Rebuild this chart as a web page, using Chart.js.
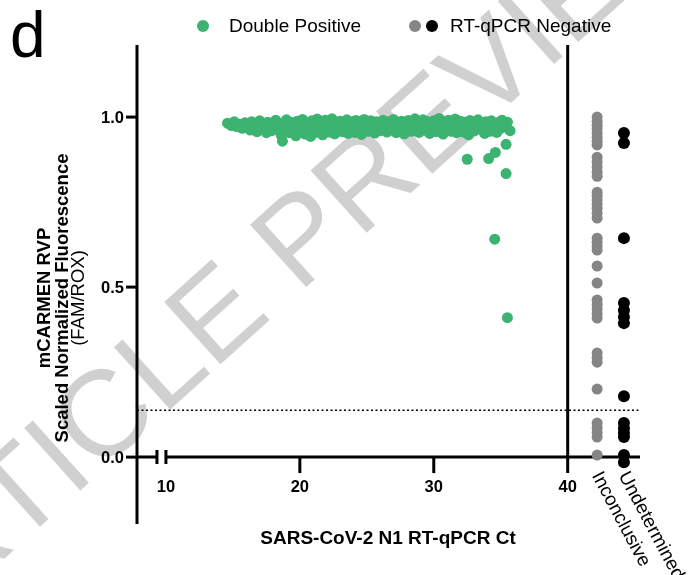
<!DOCTYPE html>
<html>
<head>
<meta charset="utf-8">
<script src="https://cdn.jsdelivr.net/npm/chart.js@4.4.1/dist/chart.umd.min.js"></script>
<style>
  html, body { margin: 0; padding: 0; background: #fff; }
  canvas { display: block; }
</style>
</head>
<body>
<canvas id="ctChart" width="688" height="575"></canvas>
<script>
// Ct vs scaled fluorescence for double positive samples
const doublePositive = [
  [14.6,0.982],[14.9,0.975],[15.1,0.986],[15.3,0.972],[15.5,0.979],[15.7,0.967],[15.9,0.983],
  [16.1,0.975],[16.3,0.962],[16.4,0.986],[16.6,0.970],[16.8,0.957],[16.9,0.980],
  [17.0,0.989],[17.2,0.966],[17.3,0.977],[17.5,0.954],[17.6,0.985],[17.8,0.972],[17.9,0.960],
  [18.0,0.979],[18.2,0.991],[18.3,0.965],[18.5,0.974],[18.6,0.947],[18.7,0.929],[18.8,0.982],[18.9,0.959],
  [19.0,0.992],[19.1,0.971],[19.2,0.954],[19.4,0.984],[19.5,0.963],[19.6,0.977],[19.7,0.945],[19.8,0.988],[19.9,0.968],
  [20.0,0.979],[20.1,0.957],[20.2,0.993],[20.3,0.970],[20.4,0.950],[20.5,0.985],[20.6,0.961],[20.7,0.976],[20.8,0.943],[20.9,0.989],
  [21.0,0.966],[21.1,0.981],[21.2,0.955],[21.3,0.994],[21.4,0.972],[21.5,0.960],[21.6,0.986],[21.7,0.948],[21.8,0.976],[21.9,0.991],
  [22.0,0.963],[22.1,0.982],[22.2,0.956],[22.3,0.973],[22.4,0.995],[22.5,0.968],[22.6,0.951],[22.7,0.984],[22.8,0.970],[22.9,0.959],
  [23.0,0.988],[23.1,0.974],[23.2,0.957],[23.3,0.983],[23.4,0.965],[23.5,0.992],[23.6,0.952],[23.7,0.978],[23.8,0.964],[23.9,0.986],
  [24.0,0.971],[24.1,0.955],[24.2,0.990],[24.3,0.976],[24.4,0.962],[24.5,0.984],[24.6,0.949],[24.7,0.973],[24.8,0.993],[24.9,0.967],
  [25.0,0.980],[25.1,0.958],[25.2,0.972],[25.3,0.989],[25.4,0.963],[25.5,0.977],[25.6,0.953],[25.7,0.986],[25.8,0.969],[25.9,0.982],
  [26.0,0.960],[26.1,0.975],[26.2,0.991],[26.3,0.966],[26.4,0.981],[26.5,0.956],[26.6,0.973],[26.7,0.987],[26.8,0.962],[26.9,0.978],
  [27.0,0.993],[27.1,0.969],[27.2,0.954],[27.3,0.983],[27.4,0.972],[27.5,0.960],[27.6,0.988],[27.7,0.975],[27.8,0.951],[27.9,0.981],
  [28.0,0.966],[28.1,0.990],[28.2,0.974],[28.3,0.958],[28.4,0.985],[28.5,0.970],[28.6,0.995],[28.7,0.963],[28.8,0.979],[28.9,0.955],
  [29.0,0.984],[29.1,0.968],[29.2,0.992],[29.3,0.976],[29.4,0.961],[29.5,0.987],[29.6,0.971],[29.7,0.952],[29.8,0.980],[29.9,0.965],
  [30.0,0.989],[30.1,0.973],[30.2,0.957],[30.3,0.984],[30.4,0.996],[30.5,0.967],[30.6,0.978],[30.7,0.950],[30.8,0.986],[30.9,0.970],
  [31.0,0.962],[31.1,0.991],[31.2,0.975],[31.3,0.958],[31.4,0.983],[31.5,0.968],[31.6,0.994],[31.7,0.954],[31.8,0.979],[31.9,0.966],
  [32.0,0.988],[32.1,0.972],[32.2,0.956],[32.3,0.985],[32.4,0.963],[32.5,0.977],[32.6,0.948],[32.7,0.990],[32.8,0.969],[32.9,0.982],
  [33.0,0.959],[33.2,0.975],[33.3,0.992],[33.5,0.964],[33.6,0.980],[33.8,0.952],[33.9,0.986],
  [34.0,0.970],[34.2,0.958],[34.3,0.989],[34.5,0.974],[34.7,0.955],[34.8,0.983],
  [35.0,0.967],[35.1,0.991],[35.3,0.976],[35.5,0.985],[35.7,0.960],
  [32.5,0.876],[34.1,0.878],[34.6,0.896],[35.4,0.920],[35.4,0.834],[34.55,0.641],[35.5,0.410]
];

// RT-qPCR negative samples, split by call
const inconclusive = [
  1.000, 0.988, 0.976, 0.965, 0.953, 0.941, 0.929, 0.918,
  0.882, 0.868, 0.853, 0.838, 0.826,
  0.779, 0.768, 0.756, 0.744, 0.732, 0.718, 0.703,
  0.644, 0.632, 0.620, 0.609,
  0.562, 0.512,
  0.462, 0.449, 0.436, 0.422, 0.409,
  0.306, 0.292, 0.279,
  0.200,
  0.100, 0.086, 0.072, 0.059,
  0.006
];
const undetermined = [
  0.953, 0.924, 0.644,
  0.453, 0.432, 0.412, 0.394,
  0.179,
  0.100, 0.085, 0.071, 0.059,
  0.006, -0.015
];

const inconclusiveX = 42.2;
const undeterminedX = 44.2;
const threshold = 0.138;
const xTicks = [10, 20, 30, 40];
const yTicks = [0.0, 0.5, 1.0];
const negLabels = ['Inconclusive', 'Undetermined'];

const GREEN = '#3cb371';
const GREY = '#858585';
const FONT = '"Liberation Sans", Arial, sans-serif';

const axesPlugin = {
  id: 'prismAxes',
  beforeDraw(chart) {
    const { ctx } = chart;
    ctx.save();
    ctx.fillStyle = '#fff';
    ctx.fillRect(0, 0, chart.width, chart.height);
    // watermark
    ctx.translate(72, 498);
    ctx.rotate(-42 * Math.PI / 180);
    ctx.font = '122px ' + FONT;
    ctx.fillStyle = '#d0d0d0';
    const lead = ctx.measureText('ART').width;
    ctx.fillText('ARTICLE PREVIEW', -lead, 0);
    ctx.restore();
  },
  beforeDatasetsDraw(chart) {
    const { ctx, chartArea } = chart;
    const xs = chart.scales.x, ys = chart.scales.y;
    const y0 = ys.getPixelForValue(0);
    const xLeft = chartArea.left, xRight = chartArea.right;
    ctx.save();
    ctx.strokeStyle = '#000';
    ctx.lineWidth = 3;
    ctx.lineCap = 'butt';

    // left axis
    ctx.beginPath();
    ctx.moveTo(xLeft, chartArea.top);
    ctx.lineTo(xLeft, chartArea.bottom + 4);
    ctx.stroke();

    // y ticks
    yTicks.forEach(v => {
      const p = ys.getPixelForValue(v);
      ctx.beginPath();
      ctx.moveTo(xLeft - 11, p);
      ctx.lineTo(xLeft, p);
      ctx.stroke();
    });

    // x axis with break before 10
    const brk = xs.getPixelForValue(9.33);
    const x10 = xs.getPixelForValue(10);
    ctx.beginPath();
    ctx.moveTo(xLeft, y0);
    ctx.lineTo(brk, y0);
    ctx.moveTo(x10, y0);
    ctx.lineTo(xRight, y0);
    ctx.stroke();
    ctx.beginPath();
    ctx.moveTo(brk, y0 - 7); ctx.lineTo(brk, y0 + 7);
    ctx.moveTo(x10, y0 - 7); ctx.lineTo(x10, y0 + 7);
    ctx.stroke();

    // x ticks (40 runs up as the divider)
    xTicks.slice(1).forEach(v => {
      const p = xs.getPixelForValue(v);
      ctx.beginPath();
      ctx.moveTo(p, v === 40 ? chartArea.top : y0);
      ctx.lineTo(p, y0 + 16);
      ctx.stroke();
    });

    // threshold
    const pt = ys.getPixelForValue(threshold);
    ctx.lineWidth = 1.5;
    ctx.setLineDash([2, 2.5]);
    ctx.beginPath();
    ctx.moveTo(xLeft, pt);
    ctx.lineTo(xRight, pt);
    ctx.stroke();
    ctx.setLineDash([]);

    // tick labels
    ctx.fillStyle = '#000';
    ctx.font = 'bold 16.5px ' + FONT;
    ctx.textAlign = 'right';
    ctx.textBaseline = 'alphabetic';
    yTicks.forEach(v => {
      ctx.fillText(v.toFixed(1), xLeft - 13, ys.getPixelForValue(v) + 6);
    });
    ctx.textAlign = 'center';
    xTicks.forEach(v => {
      ctx.fillText(String(v), xs.getPixelForValue(v), y0 + 35);
    });

    // negative category labels
    ctx.font = '19px ' + FONT;
    ctx.textAlign = 'left';
    ctx.textBaseline = 'middle';
    [inconclusiveX, undeterminedX].forEach((v, i) => {
      ctx.save();
      ctx.translate(xs.getPixelForValue(v) - 1, y0 + 16);
      ctx.rotate(62 * Math.PI / 180);
      ctx.fillText(negLabels[i], 0, 0);
      ctx.restore();
    });

    // axis titles
    ctx.font = 'bold 19px ' + FONT;
    ctx.textAlign = 'center';
    ctx.textBaseline = 'alphabetic';
    ctx.fillText('SARS-CoV-2 N1 RT-qPCR Ct', 388, 544);

    ctx.save();
    ctx.translate(0, 298);
    ctx.rotate(-Math.PI / 2);
    ctx.font = 'bold 18.5px ' + FONT;
    ctx.fillText('mCARMEN RVP', 0, 50);
    ctx.fillText('Scaled Normalized Fluorescence', 0, 68);
    ctx.font = '18.5px ' + FONT;
    ctx.fillText('(FAM/ROX)', 0, 84);
    ctx.restore();

    // panel letter
    ctx.font = '64px ' + FONT;
    ctx.textAlign = 'left';
    ctx.fillText('d', 10, 57);

    // legend
    ctx.font = '19px ' + FONT;
    ctx.textBaseline = 'middle';
    const dot = (x, c) => {
      ctx.fillStyle = c;
      ctx.beginPath();
      ctx.arc(x, 26, 6, 0, Math.PI * 2);
      ctx.fill();
    };
    dot(203, GREEN);
    ctx.fillStyle = '#000';
    ctx.fillText('Double Positive', 229, 27);
    dot(415, GREY);
    dot(432, '#000');
    ctx.fillStyle = '#000';
    ctx.fillText('RT-qPCR Negative', 450, 27);

    ctx.restore();
  }
};

new Chart(document.getElementById('ctChart'), {
  type: 'scatter',
  data: {
    datasets: [
      {
        label: 'Double Positive',
        data: doublePositive.map(([x, y]) => ({ x, y })),
        backgroundColor: GREEN,
        pointRadius: 5.5,
        borderWidth: 0
      },
      {
        label: 'Inconclusive',
        data: inconclusive.map(y => ({ x: inconclusiveX, y })),
        backgroundColor: GREY,
        pointRadius: 5.5,
        borderWidth: 0
      },
      {
        label: 'Undetermined',
        data: undetermined.map(y => ({ x: undeterminedX, y })),
        backgroundColor: '#000',
        pointRadius: 6,
        borderWidth: 0
      }
    ]
  },
  options: {
    responsive: false,
    animation: false,
    devicePixelRatio: 1,
    layout: { padding: { left: 137, right: 48, top: 45, bottom: 55 } },
    plugins: { legend: { display: false }, tooltip: { enabled: false } },
    scales: {
      x: { type: 'linear', min: 7.84, max: 45.4, display: false },
      y: { type: 'linear', min: -0.185, max: 1.212, display: false }
    }
  },
  plugins: [axesPlugin]
});
</script>
</body>
</html>
